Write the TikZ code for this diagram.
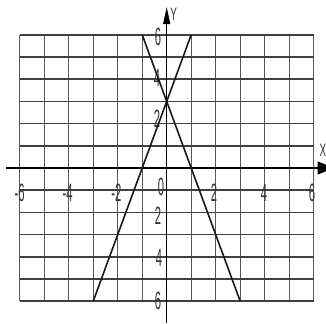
\documentclass[tikz,border=0pt]{standalone}
\usepackage{fontspec}
\setmainfont{Liberation Sans}
\usetikzlibrary{arrows.meta}
\tikzset{
  hgrid/.style={line width=1.5pt, draw=black!75},
  vgrid/.style={line width=1.1pt, draw=black!65},
  axisline/.style={line width=1.1pt, draw=black},
  graphline/.style={line width=1.6pt, draw=black!90},
  lab/.style={inner sep=0pt, font=\fontsize{25}{25}\selectfont, text=black!80, xscale=0.45},
  axlab/.style={inner sep=0pt, font=\fontsize{18}{18}\selectfont, text=black!80, xscale=0.55}
}
\begin{document}
\begin{tikzpicture}[x=24.5pt,y=22.2pt]
\useasboundingbox (-6.804,-6.982) rectangle (6.502,7.568);
% grid
\foreach \i in {-6,...,6} \draw[vgrid] (\i,-6) -- (\i,6);
\foreach \j in {-6,...,6} \draw[hgrid] (-6,\j) -- (6,\j);
% labels
\node[lab] (y6) at (-0.355,5.9) {6};
\node[lab] (y4) at (-0.40,4.05) {4};
\node[lab] (y2) at (-0.40,2.2) {2};
\node[lab] (o) at (-0.23,-0.86) {0};
\node[lab] (ym2) at (-0.355,-2.16) {2};
\node[lab] (ym4) at (-0.31,-4.05) {4};
\node[lab] (ym6) at (-0.355,-5.99) {6};
\node[lab] (xm6) at (-5.93,-1.13) {\llap{-}6};
\node[lab] (xm4) at (-3.97,-1.13) {\llap{-}4};
\node[lab] (xm2) at (-1.98,-1.13) {\llap{-}2};
\node[lab] (x2) at (1.93,-1.13) {2};
\node[lab] (x4) at (3.97,-1.13) {4};
\node[lab] (x6) at (5.93,-1.13) {6};
% axes
\coordinate (xs) at (-6.56,0);
\coordinate (ys) at (0,-6.98);
\coordinate (ye) at (0,7.25);
\coordinate (xe) at (6.85,0);
\draw[axisline,-{Triangle[length=17pt,width=13pt]}] (xs) -- (xe);
\draw[axisline,-{Triangle[length=17pt,width=7pt]}] (ys) -- (ye);
\node[axlab] (Y) at (0.28,6.94) {Y};
\node[axlab] (X) at (6.38,0.81) {X};
% graphs
\coordinate (a1) at (-3,-6);
\coordinate (a2) at (1,6);
\coordinate (b1) at (-1,6);
\coordinate (b2) at (3,-6);
\draw[graphline] (a1) -- (a2);
\draw[graphline] (b1) -- (b2);
\end{tikzpicture}
\end{document}
